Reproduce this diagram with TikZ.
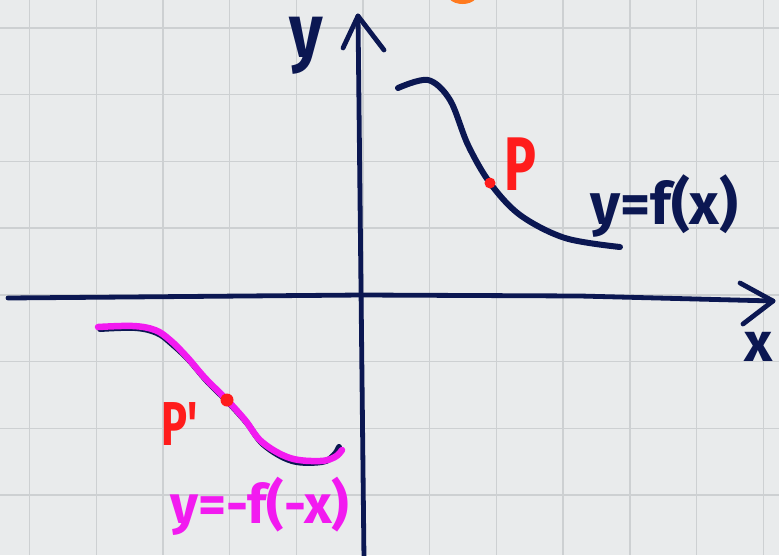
\documentclass[tikz,border=0pt]{standalone}
\usepackage{fontspec}
\usepackage{graphicx}
\setmainfont{Fira Sans}
\definecolor{paper}{HTML}{E9EBEC}
\definecolor{gridc}{HTML}{CDD0D2}
\definecolor{navy}{HTML}{0B1752}
\definecolor{magen}{HTML}{F21AF0}
\definecolor{redp}{HTML}{FF1C1C}
\definecolor{orng}{HTML}{FF7A1F}
\tikzset{
  gridline/.style={draw=gridc,line width=1.4pt},
  axisline/.style={draw=navy,line width=4.8pt,line cap=round,line join=round},
  curveline/.style={draw=navy,line width=6pt,line cap=round,line join=round},
  mirrorline/.style={draw=magen,line width=6.5pt,line cap=round,line join=round},
  lbl/.style={inner sep=0pt,anchor=base west},
  ptdot/.style={circle,fill=redp,inner sep=0pt,minimum size=11pt}
}
\begin{document}
\begin{tikzpicture}[x=1pt,y=-1pt]
\useasboundingbox (0,0) rectangle (779,555);
\fill[paper] (0,0) rectangle (779,555);
% grid
\foreach \i in {0,...,11} \draw[gridline] ({29.5+66.7*\i},0) -- ({29.5+66.7*\i},555);
\foreach \j in {0,...,8} \draw[gridline] (0,{28+66.7*\j}) -- (779,{28+66.7*\j});
% orange stroke at top edge
\draw[draw=orng,line width=5pt,line cap=round] (451,-3) .. controls (456,3) and (469,3) .. (474,-3);
% axes
\coordinate (xs) at (8,298);
\coordinate (xe) at (773,301);
\coordinate (xa1) at (740,283);
\coordinate (xa2) at (743,324);
\coordinate (ys) at (364,560);
\coordinate (ye) at (358,16);
\coordinate (ya1) at (343,48);
\coordinate (ya2) at (384,50);
\draw[axisline] (xs) -- (362,295) -- (580,296) -- (xe);
\draw[axisline] (xa1) -- (xe) -- (xa2);
\draw[axisline] (ys) -- (ye);
\draw[axisline] (ya1) -- (ye) -- (ya2);
% axis labels
\node[lbl,text=navy,font=\bfseries\fontsize{76}{76}\selectfont] (ylab) at (289,57) {\scalebox{0.85}[1]{y}};
\node[lbl,text=navy,font=\bfseries\fontsize{55}{55}\selectfont] (xlab) at (744,361) {x};
% f(x) curve
\draw[curveline] plot[smooth,tension=0.55] coordinates {(398,88) (428,80) (450,100) (468,145) (490,183) (520,215) (565,238) (620,247)};
\node[ptdot] (P) at (490,183) {};
\node[lbl,text=redp,font=\bfseries\fontsize{76}{76}\selectfont] (Plab) at (504,190) {\scalebox{0.7}[1]{P}};
\node[lbl,text=navy,font=\bfseries\fontsize{58}{58}\selectfont] (flab) at (590,224) {y=f(x)};
% mirrored curve
\draw[curveline] plot[smooth,tension=0.6] coordinates {(100,329) (135,328) (157,333) (172,344) (189,360) (207,381) (229,403) (247,423) (264,445) (292,461) (322,462) (334,455) (339,447)};
\draw[mirrorline] plot[smooth,tension=0.6] coordinates {(98,327) (133,326) (155,330) (170,340) (187,357) (205,378) (227,400) (245,420) (262,442) (290,458) (320,461) (335,457) (342,450)};
\node[ptdot,minimum size=13pt] (Pp) at (227,400) {};
\node[lbl,text=redp,font=\bfseries\fontsize{62}{62}\selectfont] (Pplab) at (161,445) {\scalebox{0.7}[1]{P\textquotesingle}};
\node[lbl,text=magen,font=\bfseries\fontsize{54}{54}\selectfont] (mlab) at (170,523) {y=-f(-x)};
\end{tikzpicture}
\end{document}
